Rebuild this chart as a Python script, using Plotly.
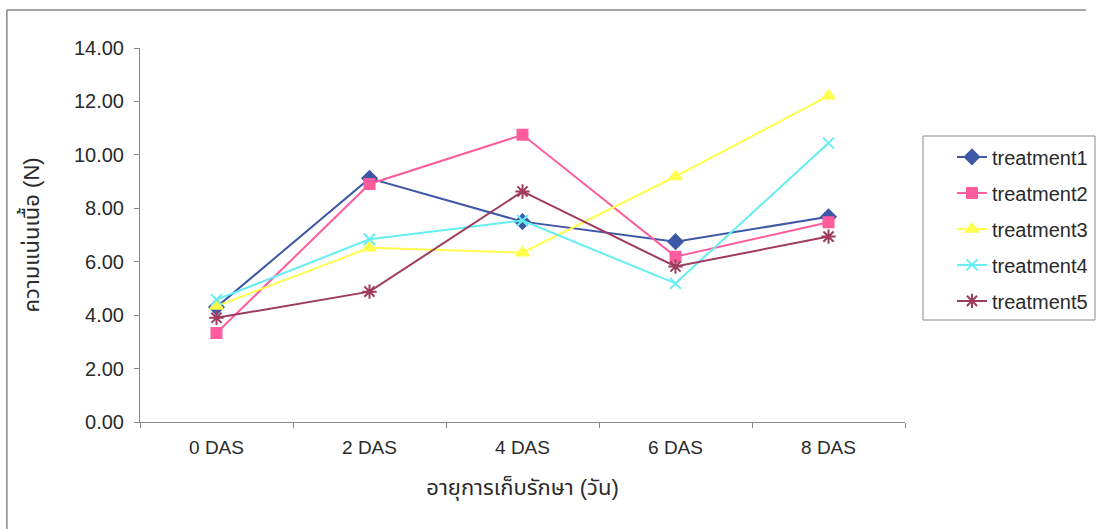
import plotly.graph_objects as go

categories = ["0 DAS", "2 DAS", "4 DAS", "6 DAS", "8 DAS"]
treatment1 = [4.30, 9.12, 7.50, 6.75, 7.68]
treatment2 = [3.33, 8.91, 10.75, 6.19, 7.48]
treatment3 = [4.34, 6.52, 6.34, 9.19, 12.21]
treatment4 = [4.58, 6.84, 7.54, 5.19, 10.44]
treatment5 = [3.90, 4.88, 8.63, 5.82, 6.94]
series_names = ["treatment1", "treatment2", "treatment3", "treatment4", "treatment5"]
y_ticks = [0, 2, 4, 6, 8, 10, 12, 14]
y_title = "ความแน่นเนื้อ (N)"
x_title = "อายุการเก็บรักษา (วัน)"

series = [treatment1, treatment2, treatment3, treatment4, treatment5]
colors = ["#3D58A6", "#FF5C9E", "#FFFF4D", "#66EEF2", "#9E3B5E"]
symbols = ["diamond", "square", "triangle-up", "x-thin", "asterisk"]
sizes = [11, 10, 11, 11, 12]

FONT = "Arial, Liberation Sans, Tahoma, Noto Sans Thai, sans-serif"
TXT = "#2a2a2a"

fig = go.Figure()
for i, (name, vals) in enumerate(zip(series_names, series)):
    fig.add_trace(go.Scatter(
        x=categories, y=vals, name=name, mode="lines+markers",
        legendgroup=name,
        line=dict(color=colors[i], width=2),
        marker=dict(symbol=symbols[i], size=sizes[i], color=colors[i],
                    line=dict(color=colors[i], width=2)),
    ))

fig.update_layout(
    width=1099, height=529,
    margin=dict(l=140, r=194, t=48, b=107, autoexpand=False),
    paper_bgcolor="white", plot_bgcolor="white",
    font=dict(family=FONT, size=15, color=TXT),
    showlegend=True,
    legend=dict(x=1.0614, y=0.761, xanchor="left", yanchor="top",
                borderwidth=0, font=dict(size=20, color=TXT),
                tracegroupgap=7, bgcolor="rgba(0,0,0,0)"),
    xaxis=dict(type="category", range=[-0.5, 4.5], tickson="boundaries",
               ticks="outside", ticklen=5, tickcolor="#888888",
               showline=True, linecolor="#888888", linewidth=1,
               showgrid=False, zeroline=False, ticklabelstandoff=8,
               tickfont=dict(size=19, color=TXT),
               title=dict(text=x_title, font=dict(size=22, color=TXT), standoff=22)),
    yaxis=dict(range=[0, 14], tickvals=y_ticks,
               ticktext=[f"{v:.2f}" for v in y_ticks],
               ticks="outside", ticklen=5, tickcolor="#888888",
               showline=True, linecolor="#888888", linewidth=1,
               showgrid=False, zeroline=False, ticklabelstandoff=6,
               tickfont=dict(size=20, color=TXT),
               title=dict(text=y_title, font=dict(size=22, color=TXT), standoff=28)),
)

# outer chart border (top and left edges visible in the reference)
fig.add_shape(type="line", xref="paper", yref="paper",
              x0=-0.174, x1=1.2366, y0=1.1016, y1=1.1016,
              line=dict(color="#888888", width=1.5), layer="below")
fig.add_shape(type="line", xref="paper", yref="paper",
              x0=-0.174, x1=-0.174, y0=-0.35, y1=1.1016,
              line=dict(color="#888888", width=1.5), layer="below")
# legend box
fig.add_shape(type="rect", xref="paper", yref="paper",
              x0=1.0235, x1=1.2484, y0=0.2727, y1=0.7647,
              line=dict(color="#888888", width=1), fillcolor="rgba(0,0,0,0)", layer="below")

fig.write_html("out.html", config={"displayModeBar": False},
               post_script="document.body.style.margin='0';")
